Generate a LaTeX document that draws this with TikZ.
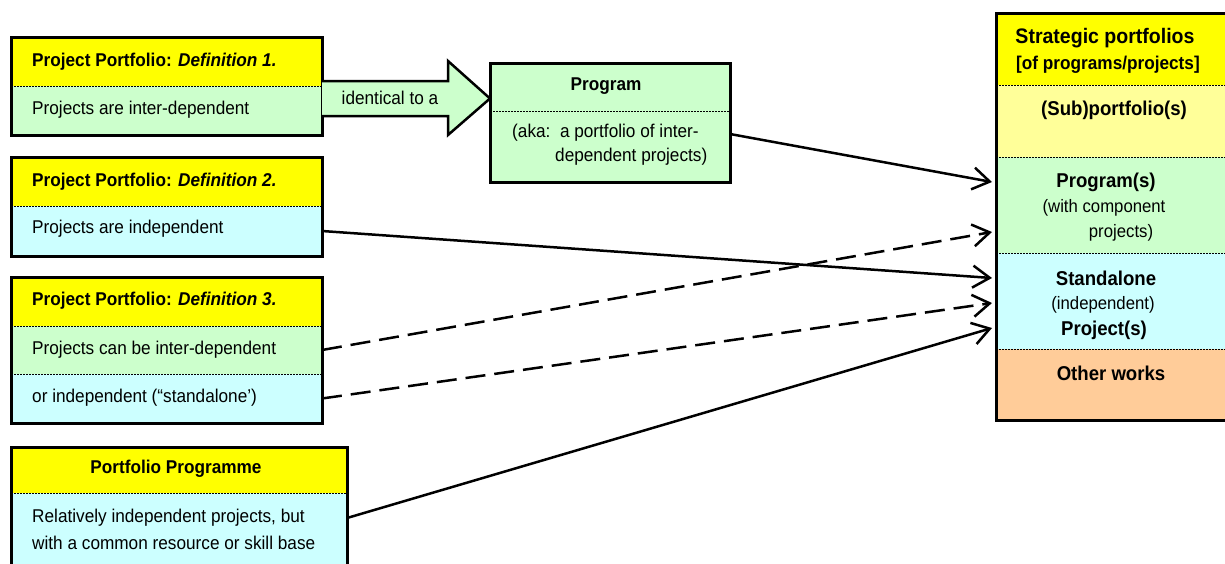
\documentclass[tikz,border=0pt]{standalone}
\usepackage{fontspec}
\setmainfont{Liberation Sans}[FakeStretch=0.93]
\usetikzlibrary{arrows.meta}
\definecolor{hdr}{HTML}{FFFF00}
\definecolor{grn}{HTML}{CCFFCC}
\definecolor{cyn}{HTML}{CCFFFF}
\definecolor{lyel}{HTML}{FFFF99}
\definecolor{org}{HTML}{FFCC99}
\tikzset{
 band/.style={inner sep=0pt, outer sep=0pt, anchor=north west, draw=none},
 frame/.style={draw=black, line width=3pt},
 sepline/.style={draw=black, line width=1pt, dash pattern=on 1.5pt off 1.5pt},
 txt/.style={inner sep=0pt, font=\fontsize{18.5}{22}\selectfont},
 btxt/.style={inner sep=0pt, font=\fontsize{18.5}{22}\selectfont\bfseries},
 rbtxt/.style={inner sep=0pt, font=\fontsize{20}{24}\selectfont\bfseries},
 rtxt/.style={inner sep=0pt, font=\fontsize{18}{22}\selectfont},
 link/.style={line width=2.5pt, -{Straight Barb[length=17pt,width=22pt,line width=2.5pt]}},
 dlink/.style={link, dash pattern=on 20pt off 9pt},
}
\begin{document}
\begin{tikzpicture}[x=1pt,y=-1pt]
\clip (0,0) rectangle (1225,563);
\fill[white] (0,0) rectangle (1225,563);

% Definition 1
\node[band, fill=hdr, minimum width=311pt, minimum height=49pt] (d1h) at (11,37) {};
\node[band, fill=grn, minimum width=311pt, minimum height=49pt] (d1b) at (11,86) {};
\draw[sepline] (d1h.south west) -- (d1h.south east);
\draw[frame] (d1h.north west) rectangle (d1b.south east);
\node[btxt, anchor=west] (d1t) at (32,62) {Project Portfolio: \textit{Definition 1.}};
\node[txt, anchor=west] (d1x) at (32,110) {Projects are inter-dependent};

% Definition 2
\node[band, fill=hdr, minimum width=311pt, minimum height=49pt] (d2h) at (11,157) {};
\node[band, fill=cyn, minimum width=311pt, minimum height=50pt] (d2b) at (11,206) {};
\draw[sepline] (d2h.south west) -- (d2h.south east);
\draw[frame] (d2h.north west) rectangle (d2b.south east);
\node[btxt, anchor=west] (d2t) at (32,182) {Project Portfolio: \textit{Definition 2.}};
\node[txt, anchor=west] (d2x) at (32,229) {Projects are independent};

% Definition 3
\node[band, fill=hdr, minimum width=311pt, minimum height=49pt] (d3h) at (11,277) {};
\node[band, fill=grn, minimum width=311pt, minimum height=48pt] (d3b1) at (11,326) {};
\node[band, fill=cyn, minimum width=311pt, minimum height=49pt] (d3b2) at (11,374) {};
\draw[sepline] (d3h.south west) -- (d3h.south east);
\draw[sepline] (d3b1.south west) -- (d3b1.south east);
\draw[frame] (d3h.north west) rectangle (d3b2.south east);
\node[btxt, anchor=west] (d3t) at (32,301) {Project Portfolio: \textit{Definition 3.}};
\node[txt, anchor=west] (d3x1) at (32,350) {Projects can be inter-dependent};
\node[txt, anchor=west] (d3x2) at (32,398) {or independent (\char"201Cstandalone\char"2019)};

% Portfolio Programme
\node[band, fill=hdr, minimum width=336pt, minimum height=46pt] (d4h) at (11,447) {};
\node[band, fill=cyn, minimum width=336pt, minimum height=80pt] (d4b) at (11,493) {};
\draw[sepline] (d4h.south west) -- (d4h.south east);
\draw[frame] (d4h.north west) rectangle (d4b.south east);
\node[btxt] (d4t) at (176,469) {Portfolio Programme};
\node[txt, anchor=west] (d4x1) at (32,518) {Relatively independent projects, but};
\node[txt, anchor=west] (d4x2) at (32,543) {with a common resource or skill base};

% Program box
\node[band, fill=grn, minimum width=240pt, minimum height=48pt] (prh) at (490,63) {};
\node[band, fill=grn, minimum width=240pt, minimum height=71pt] (prb) at (490,111) {};
\draw[sepline] (prh.south west) -- (prh.south east);
\draw[frame] (prh.north west) rectangle (prb.south east);
\node[btxt] (prt) at (606,86) {Program};
\node[txt, anchor=west] (prx1) at (512,133) {(aka:\ \ a portfolio of inter-};
\node[txt, anchor=west] (prx2) at (555,157) {dependent projects)};

% block arrow
\draw[fill=grn, line width=2.5pt, line join=miter] (d1b.north east |- 0,81) -- (448,81) -- (448,61) -- (prh.south west |- 0,98.5) -- (448,135) -- (448,116) -- (d1b.east |- 0,116);
\node[txt] (ident) at (390,98) {identical to a};

% Right box
\node[band, fill=hdr, minimum width=240pt, minimum height=72pt] (r1) at (996,13) {};
\node[band, fill=lyel, minimum width=240pt, minimum height=72pt] (r2) at (996,85) {};
\node[band, fill=grn, minimum width=240pt, minimum height=96pt] (r3) at (996,157) {};
\node[band, fill=cyn, minimum width=240pt, minimum height=96pt] (r4) at (996,253) {};
\node[band, fill=org, minimum width=240pt, minimum height=71pt] (r5) at (996,349) {};
\draw[sepline] (r1.south west) -- (r1.south east);
\draw[sepline] (r2.south west) -- (r2.south east);
\draw[sepline] (r3.south west) -- (r3.south east);
\draw[sepline] (r4.south west) -- (r4.south east);
\draw[frame] (r1.north west) rectangle (r5.south east);
\node[inner sep=0pt, font=\fontsize{21}{24}\selectfont\bfseries] (rt1) at (1105,38) {Strategic portfolios};
\node[btxt] (rt2) at (1108,65) {[of programs/projects]};
\node[rbtxt] (rt3) at (1114,110) {(Sub)portfolio(s)};
\node[rbtxt] (rt4) at (1106,182) {Program(s)};
\node[rtxt] (rt5) at (1104,208) {(with component};
\node[rtxt] (rt6) at (1121,233) {projects)};
\node[rbtxt] (rt7) at (1106,278) {Standalone};
\node[rtxt] (rt8) at (1103,305) {(independent)};
\node[rbtxt] (rt9) at (1104,330) {Project(s)};
\node[rbtxt] (rt10) at (1111,373) {Other works};

% connector endpoints
\coordinate (p1) at (730,134);
\coordinate (p5) at (347,518);
\coordinate (e1) at (992,182);
\coordinate (e2) at (992,232);
\coordinate (e3) at (992,278);
\coordinate (e4) at (992,303);
\coordinate (e5) at (992,328);

\draw[link] (p1) -- (e1);
\draw[link] (d2b.east) -- (e3);
\draw[dlink] (d3b1.east) -- (e2);
\draw[dlink] (d3b2.east) -- (e4);
\draw[link] (p5) -- (e5);
\end{tikzpicture}
\end{document}
